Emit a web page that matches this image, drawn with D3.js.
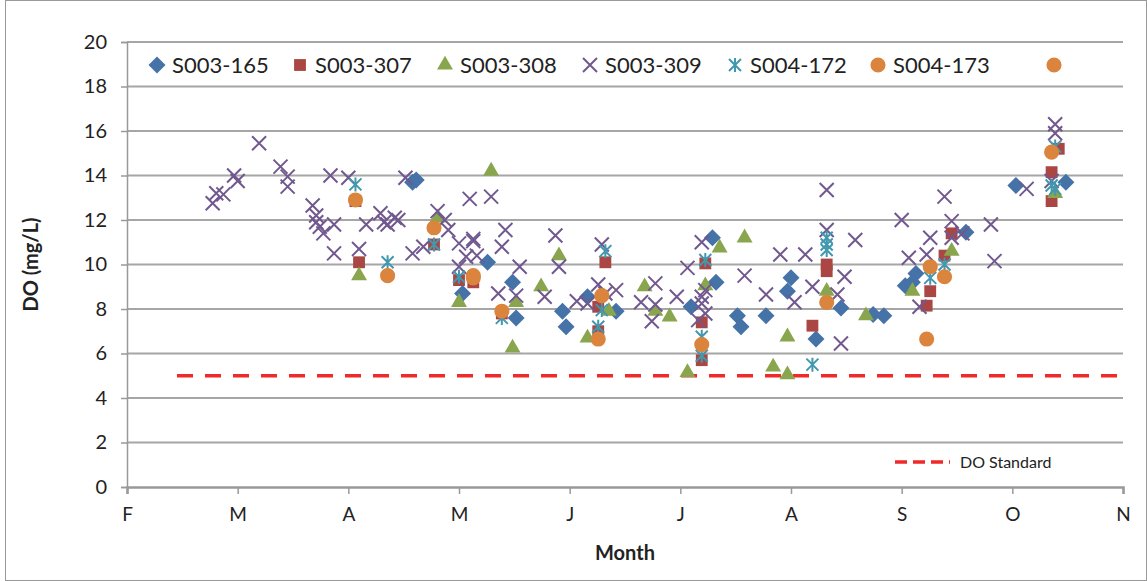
<!DOCTYPE html>
<html>
<head>
<meta charset="utf-8">
<script src="https://cdn.jsdelivr.net/npm/d3@7"></script>
<style>
  body { margin: 0; background: #fff; }
  svg text { font-family: Lato, "Open Sans", sans-serif; fill: #222; }
</style>
</head>
<body>
<div id="chart"></div>
<script>
// x values are days counted from 1 Feb, y values are DO in mg/L
const monthLabels = ['F', 'M', 'A', 'M', 'J', 'J', 'A', 'S', 'O', 'N'];
const yTicks = [0, 2, 4, 6, 8, 10, 12, 14, 16, 18, 20];
const doStandard = 5;

const s003_165 = [[80,13.7],[81,13.8],[101,10.1],[94,8.7],[108,9.2],[109,7.6],[122,7.9],[123,7.2],[129,8.55],
  [137,7.9],[158,8.1],[164,11.2],[165,9.2],[171,7.7],[172,7.2],[179,7.7],[186,9.4],[185,8.8],[193,6.65],
  [200,8.05],[209,7.75],[212,7.7],[218,9.05],[221,9.6],[220,9.2],[235,11.45],[249,13.55],[263,13.7]];
const s003_307 = [[64,12.85],[65,10.1],[86,10.9],[93,9.3],[97,9.2],[105,7.8],[134,10.1],[132,8.1],[132,7.0],
  [162,10.05],[161,7.4],[161,5.7],[192,7.25],[196,10.0],[196,9.7],[224,8.15],[225,8.8],[229,10.4],[231,11.4],
  [259,14.15],[261,15.2],[259,12.85]];
const s003_308 = [[65,9.5],[87,12.1],[93,8.3],[102,14.2],[109,8.3],[108,6.25],[121,10.4],[116,9.0],[129,6.7],
  [135,7.9],[145,9.0],[148,7.9],[152,7.65],[157,5.15],[162,9.05],[166,10.75],[173,11.2],[181,5.4],[185,6.75],
  [185,5.05],[196,8.8],[207,7.7],[220,8.8],[231,10.6],[260,13.2]];
const s003_309 = [[24,12.75],[25,13.2],[27,13.15],[30,14.0],[31,13.75],[37,15.45],[43,14.4],[45,13.95],[45,13.5],
  [52,12.65],[53,12.2],[53,11.9],[54,11.7],[55,11.4],[57,14.0],[58,11.8],[58,10.5],[62,13.9],[65,10.7],[67,11.8],
  [71,12.3],[72,11.9],[73,11.8],[75,12.1],[76,12.0],[78,13.9],[80,10.5],[83,10.8],[87,12.4],[89,12.0],[90,11.55],
  [93,10.95],[93,9.9],[95,10.35],[96,12.95],[97,11.15],[97,11.05],[98,10.4],[102,13.05],[105,10.8],[106,11.55],
  [104,8.7],[109,8.6],[110,9.9],[117,8.55],[120,11.3],[121,9.9],[126,8.35],[129,8.25],[133,10.9],[132,9.1],
  [134,8.7],[137,8.85],[144,8.3],[147,7.45],[148,9.15],[148,8.2],[154,8.55],[157,9.85],[161,11.0],[162,8.85],
  [161,8.55],[161,8.25],[162,7.8],[160,7.5],[173,9.5],[179,8.65],[183,10.45],[190,10.45],[187,8.3],[192,9.0],
  [196,13.35],[196,11.55],[201,9.45],[199,8.65],[200,6.45],[204,11.1],[217,12.0],[219,10.3],[222,8.1],[224,10.45],
  [225,11.2],[229,13.05],[231,11.95],[231,11.2],[234,11.4],[242,11.8],[243,10.15],[252,13.4],[260,16.3],[260,15.9],
  [259,13.75]];
const s004_172 = [[64,13.6],[73,10.1],[86,10.9],[93,9.45],[105,7.6],[134,10.6],[133,7.95],[132,7.2],[162,10.2],
  [161,6.75],[161,5.9],[192,5.5],[196,11.2],[196,10.9],[196,10.65],[225,9.4],[229,10.0],[260,15.3],[259,13.55],
  [260,13.4]];
const s004_173 = [[64,12.9],[73,9.5],[86,11.65],[97,9.4],[97,9.5],[105,7.9],[133,8.6],[132,6.65],[161,6.4],
  [196,8.3],[224,6.65],[225,9.9],[229,9.45],[259,15.05]];
const unnamed = [];

const seriesNames = ['S003-165', 'S003-307', 'S003-308', 'S003-309', 'S004-172', 'S004-173', ''];
const seriesData = [s003_165, s003_307, s003_308, s003_309, s004_172, s004_173, unnamed];
const seriesColors = ['#4572A7', '#AA4643', '#89A54E', '#71588F', '#4198AF', '#DB843D', '#DB843D'];
const seriesShapes = ['diamond', 'square', 'triangle', 'x', 'star', 'circle', 'circle'];

const width = 1147, height = 581;
const margin = { left: 127, right: 24, top: 42, bottom: 94 };

const svg = d3.select('#chart').append('svg')
  .attr('width', width).attr('height', height);

svg.append('rect')
  .attr('x', 5.5).attr('y', 0.5).attr('width', width - 6).attr('height', height - 1)
  .attr('fill', 'none').attr('stroke', '#999');

const x = d3.scaleLinear().domain([0, 279]).range([margin.left, width - margin.right]);
const y = d3.scaleLinear().domain([0, 20]).range([height - margin.bottom, margin.top]);

// gridlines
svg.append('g').selectAll('line').data(yTicks.slice(1)).join('line')
  .attr('x1', x(0)).attr('x2', x(279))
  .attr('y1', d => y(d)).attr('y2', d => y(d))
  .attr('stroke', '#a6a6a6').attr('stroke-width', 2);

// y axis
const yAxis = svg.append('g')
  .attr('transform', `translate(${x(0)},0)`)
  .call(d3.axisLeft(y).tickValues(yTicks).tickSize(6).tickPadding(14));
yAxis.select('.domain').attr('stroke', '#999').attr('stroke-width', 1.5);
yAxis.selectAll('.tick line').attr('stroke', '#999').attr('stroke-width', 1.5);
yAxis.selectAll('text').attr('font-size', 20);

// x axis
const xAxis = svg.append('g')
  .attr('transform', `translate(0,${y(0)})`)
  .call(d3.axisBottom(x).tickValues(d3.range(0, 280, 31))
    .tickFormat((d, i) => monthLabels[i]).tickSize(7).tickPadding(14));
xAxis.select('.domain').attr('stroke', '#999').attr('stroke-width', 2.5);
xAxis.selectAll('.tick line').attr('stroke', '#999').attr('stroke-width', 1.5);
xAxis.selectAll('text').attr('font-size', 19);

svg.append('text')
  .attr('x', x(139.5)).attr('y', 560)
  .attr('text-anchor', 'middle').attr('font-size', 20).attr('font-weight', 'bold')
  .text('Month');
svg.append('text')
  .attr('transform', `translate(38,${y(10)}) rotate(-90)`)
  .attr('text-anchor', 'middle').attr('font-size', 20).attr('font-weight', 'bold')
  .text('DO (mg/L)');

// DO standard line
svg.append('line')
  .attr('x1', x(0) + 50).attr('x2', x(279))
  .attr('y1', y(doStandard)).attr('y2', y(doStandard))
  .attr('stroke', '#EE2A2A').attr('stroke-width', 3.5)
  .attr('stroke-dasharray', '16,12');

const symbolFor = {
  square: d3.symbol().type(d3.symbolSquare).size(140),
  triangle: d3.symbol().type(d3.symbolTriangle).size(110),
  circle: d3.symbol().type(d3.symbolCircle).size(180)
};

const drawMarker = (g, shape, color, px, py) => {
  if (shape === 'x') {
    g.append('path')
      .attr('d', `M${px - 7},${py - 7}L${px + 7},${py + 7}M${px - 7},${py + 7}L${px + 7},${py - 7}`)
      .attr('stroke', color).attr('stroke-width', 2).attr('fill', 'none');
  } else if (shape === 'star') {
    g.append('path')
      .attr('d', `M${px - 6},${py - 6}L${px + 6},${py + 6}M${px - 6},${py + 6}L${px + 6},${py - 6}M${px},${py - 7}L${px},${py + 7}`)
      .attr('stroke', color).attr('stroke-width', 2).attr('fill', 'none');
  } else if (shape === 'diamond') {
    g.append('path')
      .attr('d', `M${px},${py - 8.5}L${px + 8.5},${py}L${px},${py + 8.5}L${px - 8.5},${py}Z`)
      .attr('fill', color);
  } else {
    g.append('path')
      .attr('d', symbolFor[shape]())
      .attr('transform', `translate(${px},${py})`)
      .attr('fill', color);
  }
};

seriesData.forEach((data, i) => {
  const g = svg.append('g');
  data.forEach(d => drawMarker(g, seriesShapes[i], seriesColors[i], x(d[0]), y(d[1])));
});

// legend
const legendX = [157, 300, 445, 590, 735, 878, 1054];
const legend = svg.append('g');
seriesNames.forEach((name, i) => {
  drawMarker(legend, seriesShapes[i], seriesColors[i], legendX[i], 65);
  legend.append('text')
    .attr('x', legendX[i] + 15).attr('y', 73)
    .attr('font-size', 22).text(name);
});

svg.append('line')
  .attr('x1', 895).attr('x2', 950).attr('y1', 462).attr('y2', 462)
  .attr('stroke', '#EE2A2A').attr('stroke-width', 3.5).attr('stroke-dasharray', '12,6');
svg.append('text')
  .attr('x', 960).attr('y', 468).attr('font-size', 16).text('DO Standard');
</script>
</body>
</html>
